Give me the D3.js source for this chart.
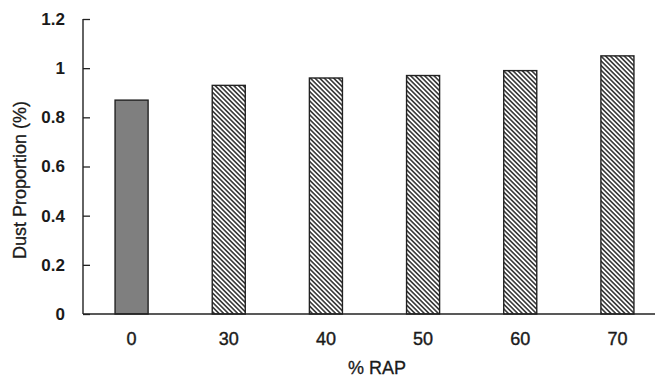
<!DOCTYPE html>
<html>
<head>
<meta charset="utf-8">
<script src="https://cdn.jsdelivr.net/npm/d3@7"></script>
<style>
  body { margin: 0; background: #fff; }
  svg text { font-family: "Liberation Sans", Arial, sans-serif; fill: #1a1a1a; }
</style>
</head>
<body>
<div id="chartDiv"></div>
<script>
// values
var categories = ["0", "30", "40", "50", "60", "70"];
var dustValues = [0.87, 0.93, 0.96, 0.97, 0.99, 1.05];
var yTicks = [0, 0.2, 0.4, 0.6, 0.8, 1, 1.2];

var width = 657, height = 381;
var margin = { top: 19, right: -9, bottom: 67, left: 83 };

var svg = d3.select("#chartDiv").append("svg")
    .attr("width", width)
    .attr("height", height);

// hatch pattern for the RAP bars (lines running top-left to bottom-right)
var defs = svg.append("defs");
var pat = defs.append("pattern")
    .attr("id", "hatch")
    .attr("patternUnits", "userSpaceOnUse")
    .attr("width", 3.3)
    .attr("height", 3.3)
    .attr("patternTransform", "rotate(45)");
pat.append("rect").attr("width", 3.3).attr("height", 3.3).attr("fill", "#fff");
pat.append("line")
    .attr("x1", 0).attr("y1", 0.8).attr("x2", 3.3).attr("y2", 0.8)
    .attr("stroke", "#2a2a2a").attr("stroke-width", 1.5);

var x = d3.scaleBand()
    .domain(categories)
    .range([margin.left, width - margin.right])
    .paddingInner(0.66)
    .paddingOuter(0.33);

var y = d3.scaleLinear()
    .domain([0, 1.2])
    .range([height - margin.bottom, margin.top]);

// bars
svg.selectAll(".bar")
    .data(dustValues)
    .enter().append("rect")
    .attr("class", "bar")
    .attr("x", (d, i) => x(categories[i]))
    .attr("y", d => y(d))
    .attr("width", x.bandwidth())
    .attr("height", d => y(0) - y(d))
    .attr("fill", (d, i) => i === 0 ? "#7f7f7f" : "url(#hatch)")
    .attr("stroke", "#222")
    .attr("stroke-width", 1.4);

// y axis, ticks pointing inward
var yAxis = d3.axisRight(y)
    .tickValues(yTicks)
    .tickSize(7)
    .tickFormat(d => d3.format("")(d));

var gy = svg.append("g")
    .attr("transform", `translate(${margin.left},0)`)
    .call(yAxis);
gy.select(".domain").remove();
gy.selectAll(".tick line").attr("stroke", "#222").attr("stroke-width", 1.3);
gy.selectAll(".tick text")
    .attr("x", -18)
    .attr("text-anchor", "end")
    .style("font-size", "17px")
    .style("font-weight", "bold");

svg.append("line")
    .attr("x1", margin.left).attr("x2", margin.left)
    .attr("y1", y(1.2)).attr("y2", y(0))
    .attr("stroke", "#222").attr("stroke-width", 1.4);

// x axis
var xAxis = d3.axisBottom(x).tickSize(0).tickPadding(17);
var gx = svg.append("g")
    .attr("transform", `translate(0,${y(0)})`)
    .call(xAxis);
gx.select(".domain").remove();
gx.selectAll(".tick text")
    .attr("y", 31)
    .attr("dy", null)
    .style("font-size", "18px")
    .style("stroke", "#1a1a1a")
    .style("stroke-width", 0.4);

svg.append("line")
    .attr("x1", margin.left).attr("x2", 655)
    .attr("y1", y(0)).attr("y2", y(0))
    .attr("stroke", "#222").attr("stroke-width", 1.4);

// axis titles
svg.append("text")
    .attr("x", 377)
    .attr("y", 374)
    .attr("text-anchor", "middle")
    .style("font-size", "18px")
    .style("stroke", "#1a1a1a")
    .style("stroke-width", 0.3)
    .text("% RAP");

svg.append("text")
    .attr("transform", "translate(26,180) rotate(-90)")
    .attr("text-anchor", "middle")
    .style("font-size", "18px")
    .style("stroke", "#1a1a1a")
    .style("stroke-width", 0.3)
    .text("Dust Proportion (%)");
</script>
</body>
</html>
